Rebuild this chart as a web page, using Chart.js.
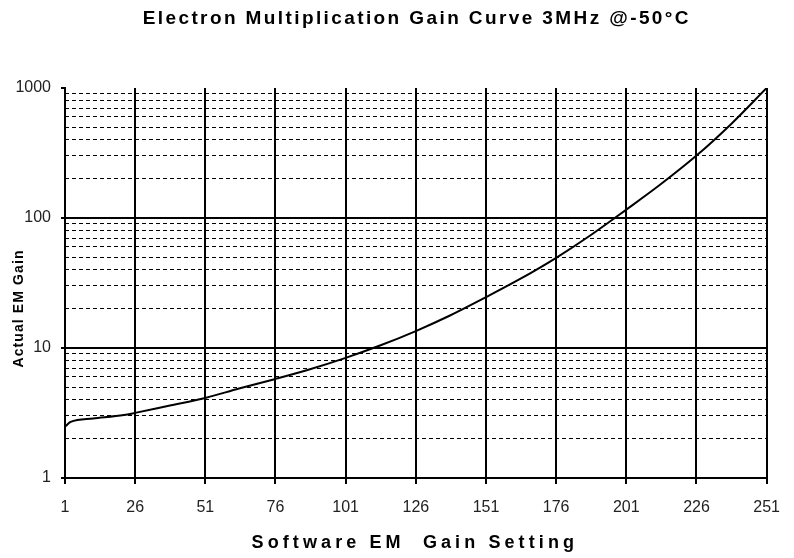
<!DOCTYPE html>
<html>
<head>
<meta charset="utf-8">
<title>Electron Multiplication Gain Curve</title>
<script src="https://cdn.jsdelivr.net/npm/chart.js@4.4.1/dist/chart.umd.min.js"></script>
<style>
  body { margin: 0; background: #fff; }
  #wrap { width: 794px; height: 558px; }
</style>
</head>
<body>
<div id="wrap"><canvas id="gainChart" width="794" height="558"></canvas></div>
<script>
// datos
const emSetting = [1, 3, 11, 22, 26, 38, 51, 63, 76, 88, 101, 113, 126, 138, 151, 163, 176, 188, 201, 213, 226, 238, 251];
const emGain = [2.48, 2.7, 2.87, 3.05, 3.17, 3.6, 4.13, 4.88, 5.78, 6.83, 8.4, 10.4, 13.5, 17.7, 24.6, 33.8, 49.4, 73, 116, 180, 302, 520, 1000];

const xTicks = [1, 26, 51, 76, 101, 126, 151, 176, 201, 226, 251];
const yMajor = [1, 10, 100, 1000];
const yMinor = [2, 3, 4, 5, 6, 7, 8, 9, 20, 30, 40, 50, 60, 70, 80, 90, 200, 300, 400, 500, 600, 700, 800, 900];

const chartTitle = 'Electron Multiplication Gain Curve 3MHz @-50°C';
const xTitle = 'Software EM  Gain Setting';
const yTitle = 'Actual EM Gain';

const FAMILY = '"Liberation Sans", Arial, sans-serif';
Chart.defaults.font.family = FAMILY;

// titulos con espaciado entre letras
const spacedTitles = {
    id: 'spacedTitles',
    afterDraw(chart) {
        const ctx = chart.ctx;
        const area = chart.chartArea;
        const mid = (area.left + area.right) / 2;
        ctx.save();
        ctx.fillStyle = '#000';
        ctx.textAlign = 'center';
        ctx.textBaseline = 'alphabetic';

        ctx.font = 'bold 19px ' + FAMILY;
        ctx.letterSpacing = '2.4px';
        ctx.fillText(chartTitle, mid + 1, 24);

        ctx.font = 'bold 18px ' + FAMILY;
        ctx.letterSpacing = '4.1px';
        ctx.fillText(xTitle, mid - 1, 548);

        ctx.font = 'bold 14px ' + FAMILY;
        ctx.letterSpacing = '1.1px';
        ctx.translate(23, 309);
        ctx.rotate(-Math.PI / 2);
        ctx.fillText(yTitle, 0.5, 0);
        ctx.restore();
    }
};

const points = emSetting.map((s, i) => ({ x: s, y: emGain[i] }));

const ctx = document.getElementById('gainChart').getContext('2d');
const chart = new Chart(ctx, {
    type: 'line',
    data: {
        datasets: [{
            data: points,
            borderColor: '#000',
            borderWidth: 2,
            pointRadius: 0,
            cubicInterpolationMode: 'monotone',
            fill: false,
            yAxisID: 'y'
        }]
    },
    options: {
        responsive: false,
        animation: false,
        layout: { padding: { top: 88, right: 17, left: 0, bottom: 0 } },
        plugins: {
            legend: { display: false },
            title: { display: false },
            tooltip: { enabled: false }
        },
        scales: {
            x: {
                type: 'linear',
                min: 1,
                max: 251,
                afterBuildTicks: axis => { axis.ticks = xTicks.map(v => ({ value: v })); },
                afterFit: axis => { axis.height = 80; },
                ticks: {
                    autoSkip: false,
                    maxRotation: 0,
                    padding: 14,
                    color: '#222',
                    font: { size: 16 }
                },
                grid: {
                    color: '#000',
                    lineWidth: 2,
                    tickLength: 6,
                    tickColor: '#000',
                    tickWidth: 2
                },
                border: { color: '#000', width: 2 }
            },
            y: {
                type: 'logarithmic',
                min: 1,
                max: 1000,
                afterBuildTicks: axis => { axis.ticks = yMajor.map(v => ({ value: v })); },
                afterFit: axis => { axis.width = 65; },
                ticks: {
                    padding: 10,
                    color: '#222',
                    font: { size: 16 },
                    callback: v => String(v)
                },
                grid: {
                    color: c => (c.tick && c.tick.value === 1000) ? 'rgba(0,0,0,0)' : '#000',
                    lineWidth: 2,
                    tickLength: 4,
                    tickColor: '#000',
                    tickWidth: 2
                },
                border: { color: '#000', width: 2 }
            },
            yMinor: {
                type: 'logarithmic',
                position: 'right',
                min: 1,
                max: 1000,
                afterBuildTicks: axis => { axis.ticks = yMinor.map(v => ({ value: v })); },
                afterFit: axis => { axis.width = 0; },
                ticks: { display: false },
                grid: {
                    color: '#000',
                    lineWidth: 1,
                    drawTicks: false
                },
                border: { display: false, dash: [4, 3] }
            }
        }
    },
    plugins: [spacedTitles]
});
</script>
</body>
</html>
